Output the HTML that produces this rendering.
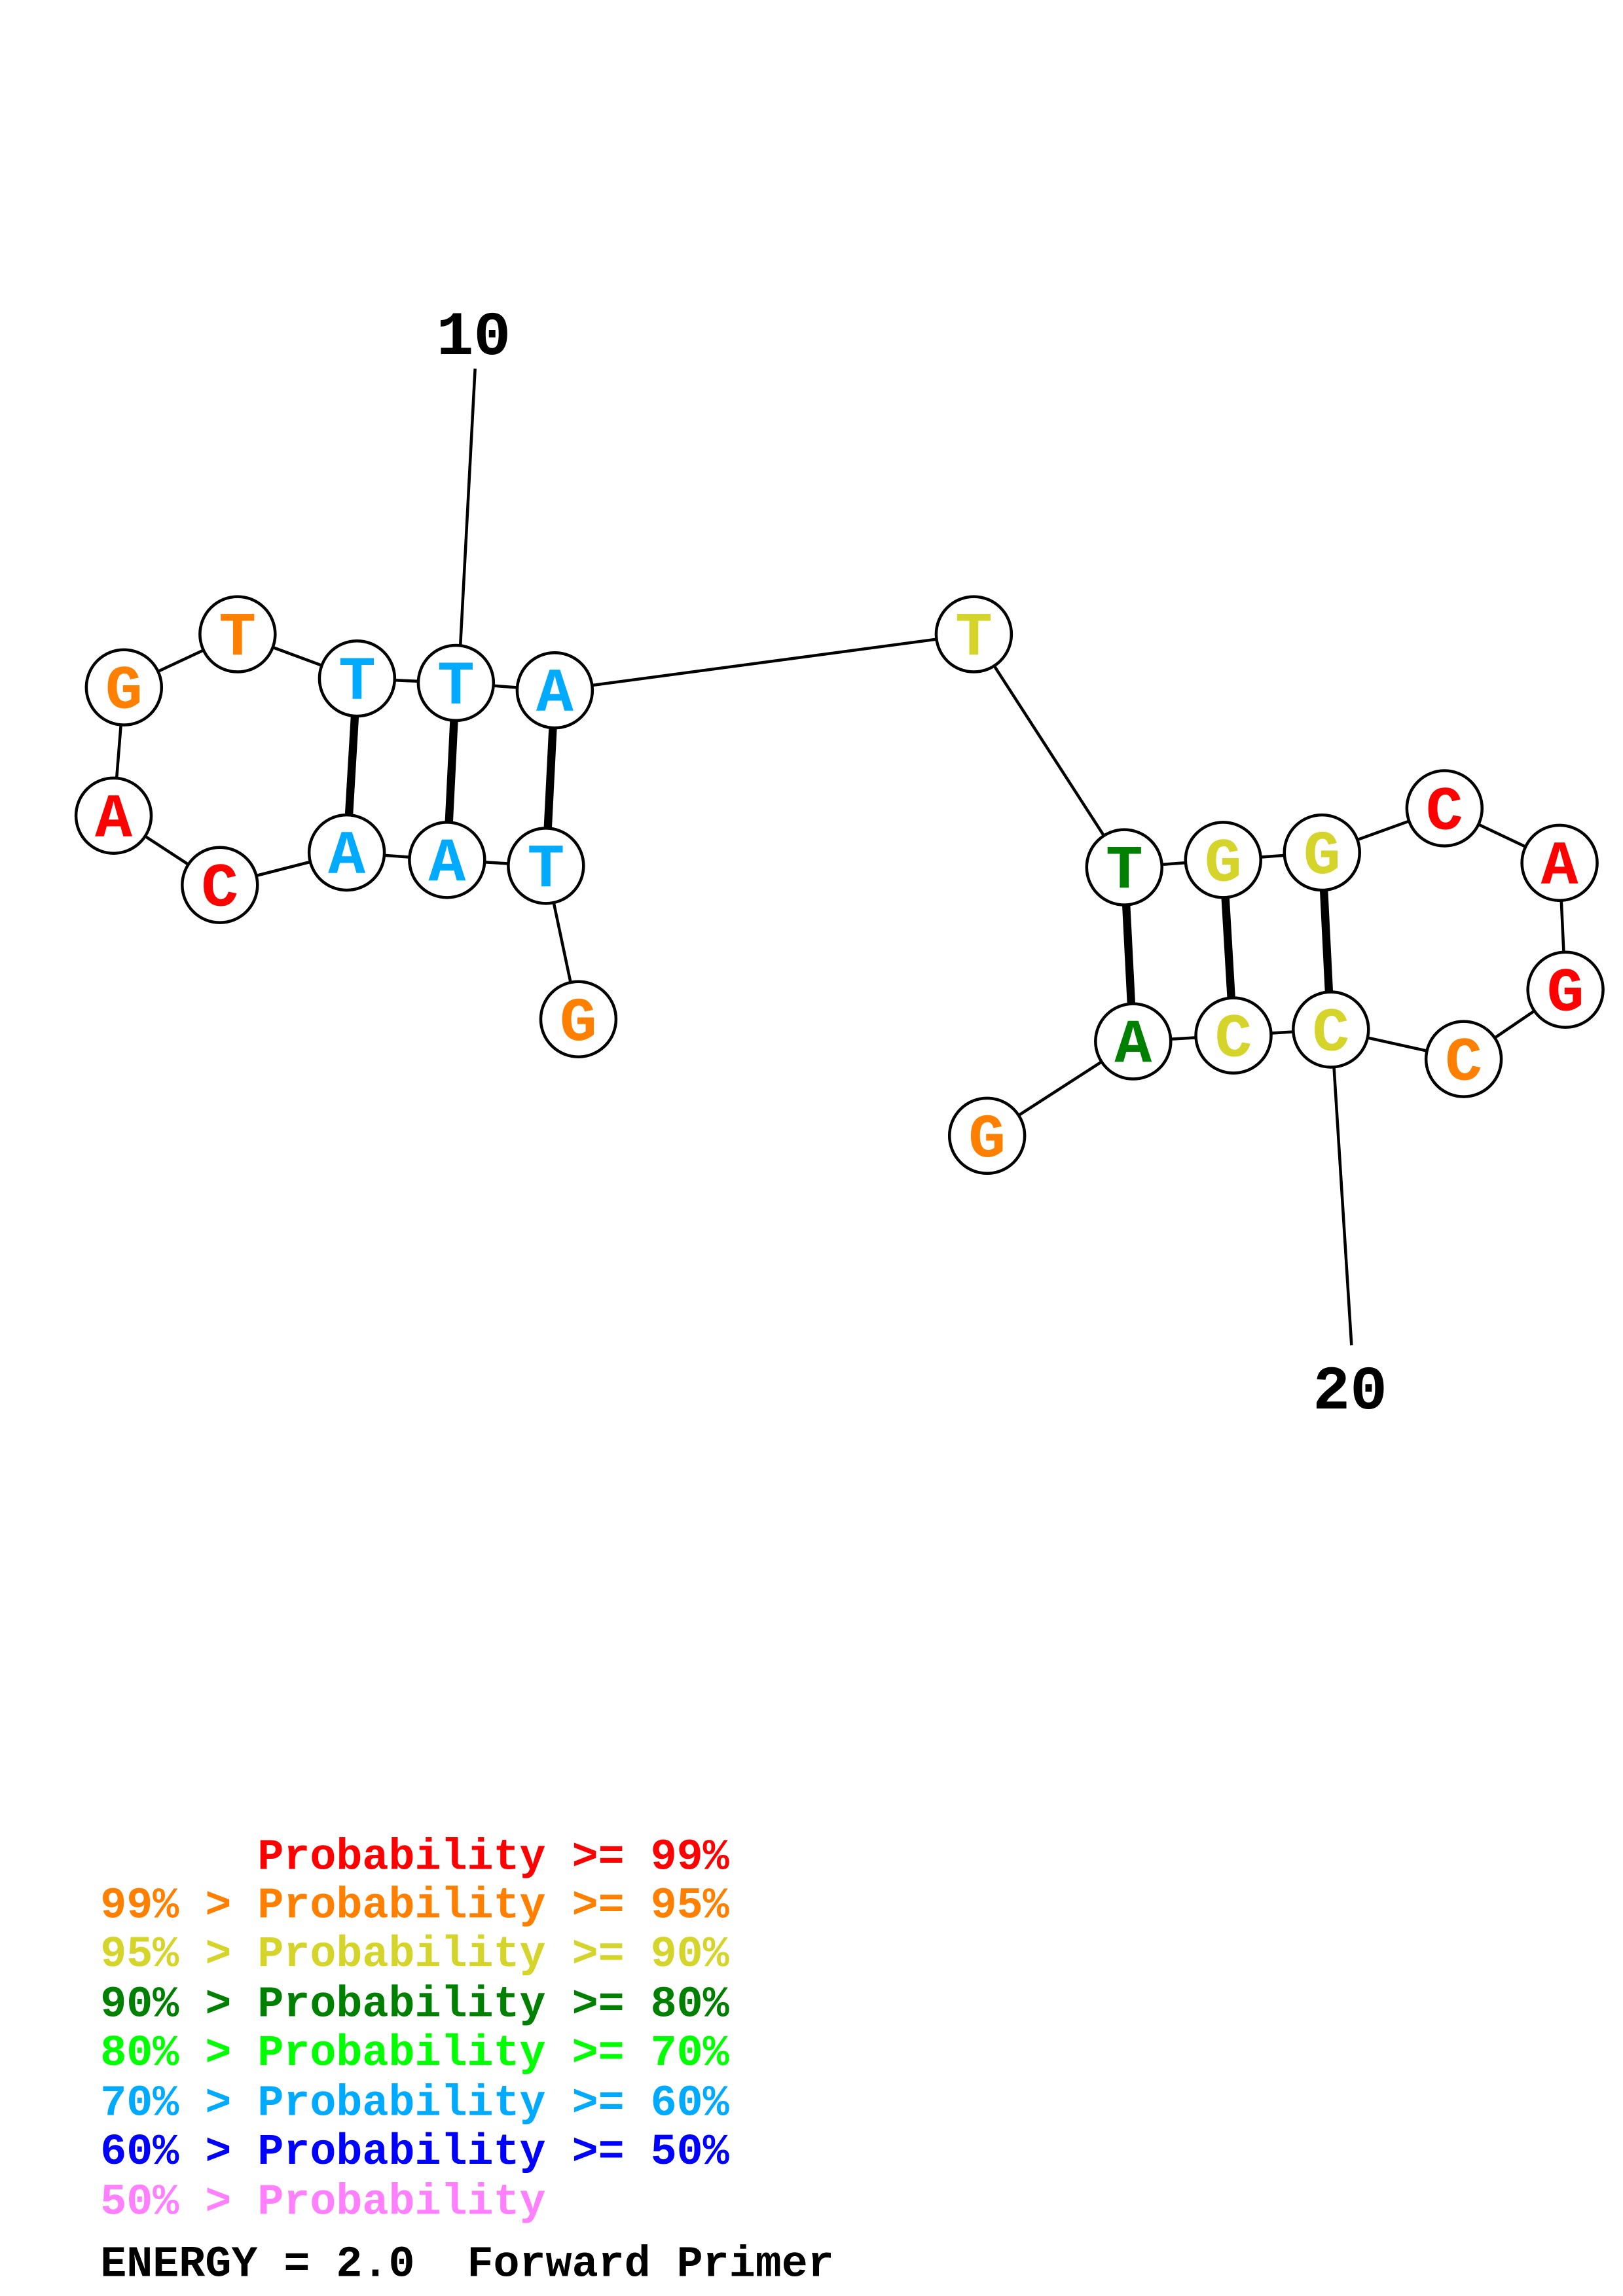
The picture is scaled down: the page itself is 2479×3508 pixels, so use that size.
<!DOCTYPE html>
<html><head><meta charset="utf-8"><style>html,body{margin:0;padding:0;background:#fff}svg{display:block}.pre{white-space:pre}</style></head>
<body>
<svg width="2479" height="3508" viewBox="0 0 1100 1556.6" xmlns="http://www.w3.org/2000/svg">
<rect width="1100" height="1556.6" fill="#fff"/>
<g stroke="#000" stroke-width="2" fill="none">
<line x1="322" y1="250" x2="312" y2="438"/>
<line x1="904" y1="722" x2="916" y2="912"/>
<polyline points="392,691 370,587 303,583 235,578 149,600 77,553 84,466 161,430 242,460 309,463 376,468 660,430 762,588 829,583 896,578 979,548 1057,585 1061,671 992,718 902,698 836,702 768,706 669,770"/>
</g>
<g stroke="#000" stroke-width="5.5">
<line x1="242" y1="460" x2="235" y2="578"/>
<line x1="309" y1="463" x2="303" y2="583"/>
<line x1="376" y1="468" x2="370" y2="587"/>
<line x1="762" y1="588" x2="768" y2="706"/>
<line x1="829" y1="583" x2="836" y2="702"/>
<line x1="896" y1="578" x2="902" y2="698"/>
</g>
<g stroke="#000" stroke-width="2" fill="#fff">
<circle cx="84" cy="466" r="25.5"/><circle cx="161" cy="430" r="25.5"/><circle cx="242" cy="460" r="25.5"/><circle cx="309" cy="463" r="25.5"/><circle cx="376" cy="468" r="25.5"/>
<circle cx="77" cy="553" r="25.5"/><circle cx="149" cy="600" r="25.5"/><circle cx="235" cy="578" r="25.5"/><circle cx="303" cy="583" r="25.5"/><circle cx="370" cy="587" r="25.5"/><circle cx="392" cy="691" r="25.5"/>
<circle cx="660" cy="430" r="25.5"/><circle cx="762" cy="588" r="25.5"/><circle cx="829" cy="583" r="25.5"/><circle cx="896" cy="578" r="25.5"/><circle cx="979" cy="548" r="25.5"/><circle cx="1057" cy="585" r="25.5"/>
<circle cx="1061" cy="671" r="25.5"/><circle cx="992" cy="718" r="25.5"/><circle cx="902" cy="698" r="25.5"/><circle cx="836" cy="702" r="25.5"/><circle cx="768" cy="706" r="25.5"/><circle cx="669" cy="770" r="25.5"/>
</g>
<g font-family="'Liberation Mono','DejaVu Sans Mono',monospace" font-weight="bold" font-size="42" text-anchor="middle">
<text x="84" y="480" fill="#ff8000">G</text><text x="161" y="444" fill="#ff8000">T</text><text x="242" y="474" fill="#00aaff">T</text><text x="309" y="477" fill="#00aaff">T</text><text x="376" y="482" fill="#00aaff">A</text>
<text x="77" y="567" fill="#ff0000">A</text><text x="149" y="614" fill="#ff0000">C</text><text x="235" y="592" fill="#00aaff">A</text><text x="303" y="597" fill="#00aaff">A</text><text x="370" y="601" fill="#00aaff">T</text><text x="392" y="705" fill="#ff8000">G</text>
<text x="660" y="444" fill="#d4d42a">T</text><text x="762" y="602" fill="#008000">T</text><text x="829" y="597" fill="#d4d42a">G</text><text x="896" y="592" fill="#d4d42a">G</text><text x="979" y="562" fill="#ff0000">C</text><text x="1057" y="599" fill="#ff0000">A</text>
<text x="1061" y="685" fill="#ff0000">G</text><text x="992" y="732" fill="#ff8000">C</text><text x="902" y="712" fill="#d4d42a">C</text><text x="836" y="716" fill="#d4d42a">C</text><text x="768" y="720" fill="#008000">A</text><text x="669" y="784" fill="#ff8000">G</text>
</g>
<g font-family="'Liberation Mono','DejaVu Sans Mono',monospace" font-weight="bold" font-size="42" text-anchor="middle" fill="#000">
<text x="321" y="240">10</text><text x="915" y="955">20</text>
</g>
<g font-family="'Liberation Mono','DejaVu Sans Mono',monospace" font-weight="bold" font-size="29.6">
<text class="pre" x="68" y="1267" fill="#ff0000">      Probability &gt;= 99%</text>
<text class="pre" x="68" y="1300" fill="#ff8000">99% &gt; Probability &gt;= 95%</text>
<text class="pre" x="68" y="1333" fill="#d4d42a">95% &gt; Probability &gt;= 90%</text>
<text class="pre" x="68" y="1367" fill="#008000">90% &gt; Probability &gt;= 80%</text>
<text class="pre" x="68" y="1400" fill="#00ff00">80% &gt; Probability &gt;= 70%</text>
<text class="pre" x="68" y="1434" fill="#00aaff">70% &gt; Probability &gt;= 60%</text>
<text class="pre" x="68" y="1467" fill="#0000ff">60% &gt; Probability &gt;= 50%</text>
<text class="pre" x="68" y="1501" fill="#ff80ff">50% &gt; Probability</text>
<text class="pre" x="68" y="1543" fill="#000">ENERGY = 2.0  Forward Primer</text>
</g>
</svg>
</body></html>
